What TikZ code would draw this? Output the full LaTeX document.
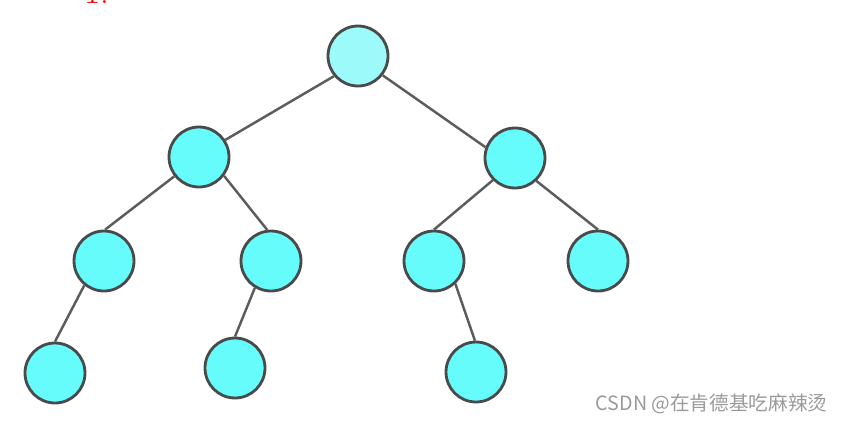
\documentclass[tikz,border=0pt]{standalone}
\usepackage{fontspec}
\usepackage{xcolor}
\usepackage{tikz}
\newfontfamily\cjk{Noto Sans CJK SC}
\definecolor{nodefill}{HTML}{66FCFC}
\definecolor{rootfill}{HTML}{9CFAFB}
\definecolor{rim}{HTML}{4A4A4A}
\definecolor{wm}{HTML}{9A9A9A}

\begin{document}
\begin{tikzpicture}[
  x=0.02cm, y=-0.02cm,
  tnode/.style={circle, draw=rim, line width=1.6pt, fill=nodefill, minimum size=1.2cm, inner sep=0pt},
  edge/.style={draw=rim!90, line width=1.4pt}
]
\useasboundingbox (0,0) rectangle (842,424);
\node[anchor=base west, text=red, inner sep=0pt] (num) at (84,3) {\fontsize{20}{24}\selectfont 1.};
\node[tnode, fill=rootfill] (root) at (358,56) {};
\node[tnode] (a) at (199,157) {};
\node[tnode] (b) at (515,158) {};
\node[tnode] (aa) at (104,261) {};
\node[tnode] (ab) at (271,261) {};
\node[tnode] (ba) at (434,261) {};
\node[tnode] (bb) at (598,261) {};
\node[tnode] (aaa) at (55,373) {};
\node[tnode] (aba) at (235,368) {};
\node[tnode] (baa) at (476,372) {};
\draw[edge] (root.220) -- (a.33);
\draw[edge] (root.-38) -- (b.160);
\draw[edge] (a.218) -- (aa.88);
\draw[edge] (a.-37) -- (ab.97);
\draw[edge] (b.-135) -- (ba.90);
\draw[edge] (b.-47) -- (bb.90);
\draw[edge] (aa.-129) -- (aaa.90);
\draw[edge] (ab.-121) -- (aba.90);
\draw[edge] (ba.-47) -- (baa.92);
\node[anchor=east, text=wm, inner sep=0pt] (mark) at (828,404) {\cjk\fontsize{11.2}{13}\selectfont CSDN @在肯德基吃麻辣烫};
\end{tikzpicture}
\end{document}
